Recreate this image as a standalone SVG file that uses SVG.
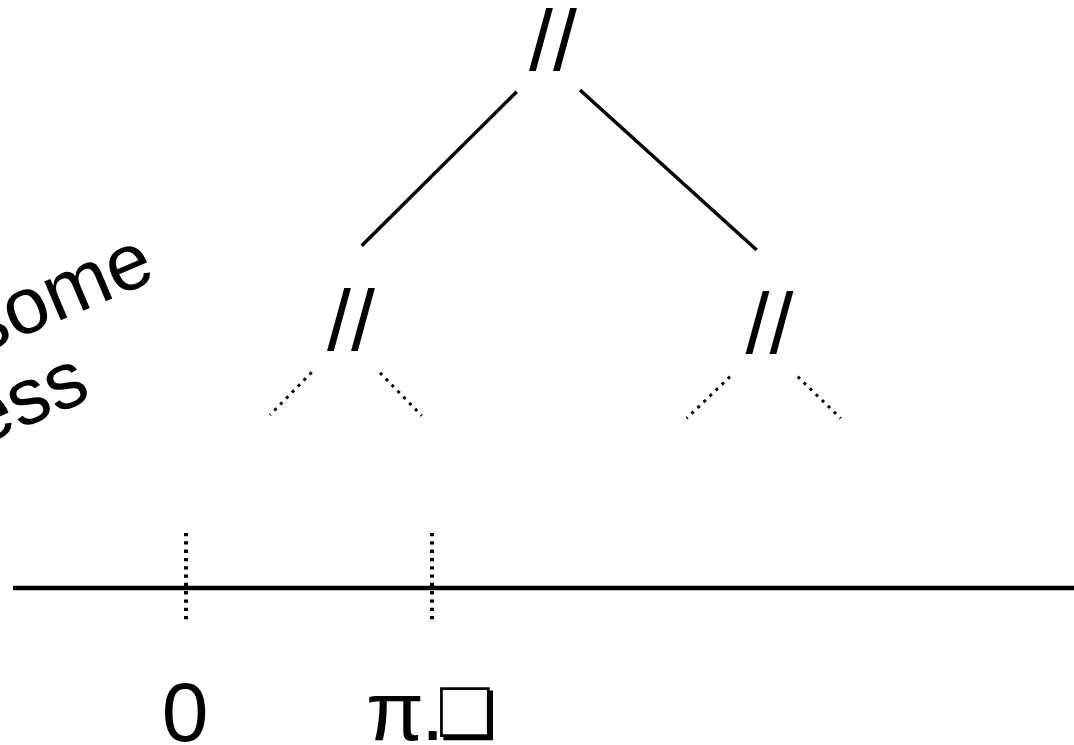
<svg xmlns="http://www.w3.org/2000/svg" width="1074" height="745" viewBox="0 0 1074 745">
  <style>
    .t { font-family: "Liberation Sans", "DejaVu Sans", sans-serif; fill: #000; }
    .edge { stroke: #000; stroke-width: 3.5; fill: none; }
    .dot { stroke: #000; stroke-width: 3; stroke-dasharray: 3 5.4; fill: none; }
    .vdot { stroke: #000; stroke-width: 4; stroke-dasharray: 3.3 5; fill: none; }
  </style>
  <rect width="1074" height="745" fill="#fff"/>
  <g id="label-rotated">
    <text class="t" font-size="80" text-anchor="end" transform="translate(158,279) rotate(-23)">some</text>
    <text class="t" font-size="80" text-anchor="end" transform="translate(93,398) rotate(-23)">ess</text>
  </g>
  <g id="node-root"><text class="t" font-size="86" x="529" y="70">//</text></g>
  <g id="node-left"><text class="t" font-size="86" x="327" y="350">//</text></g>
  <g id="node-right"><text class="t" font-size="86" x="745.5" y="353">//</text></g>
  <g id="connectors">
    <line class="edge" x1="516.7" y1="91.7" x2="361.7" y2="245.7"/>
    <line class="edge" x1="580" y1="90" x2="756.7" y2="250"/>
    <line class="dot" x1="311.7" y1="372.3" x2="270" y2="415"/>
    <line class="dot" x1="380" y1="372.7" x2="421.7" y2="415.7"/>
    <line class="dot" x1="730" y1="376.7" x2="686.7" y2="418.3"/>
    <line class="dot" x1="797.7" y1="376.7" x2="840.7" y2="418.3"/>
  </g>
  <g id="axis">
    <line x1="13" y1="588" x2="1074" y2="588" stroke="#000" stroke-width="4.5"/>
    <line class="vdot" x1="186" y1="533" x2="186" y2="623"/>
    <line class="vdot" x1="432" y1="533" x2="432" y2="623"/>
  </g>
  <g id="label-zero"><text class="t" font-size="84" x="185" y="741" text-anchor="middle">0</text></g>
  <g id="label-pi"><text class="t" font-size="84" x="366" y="740" letter-spacing="-3">π.<tspan x="436" y="737" font-size="68" letter-spacing="0">❏</tspan></text></g>
</svg>
